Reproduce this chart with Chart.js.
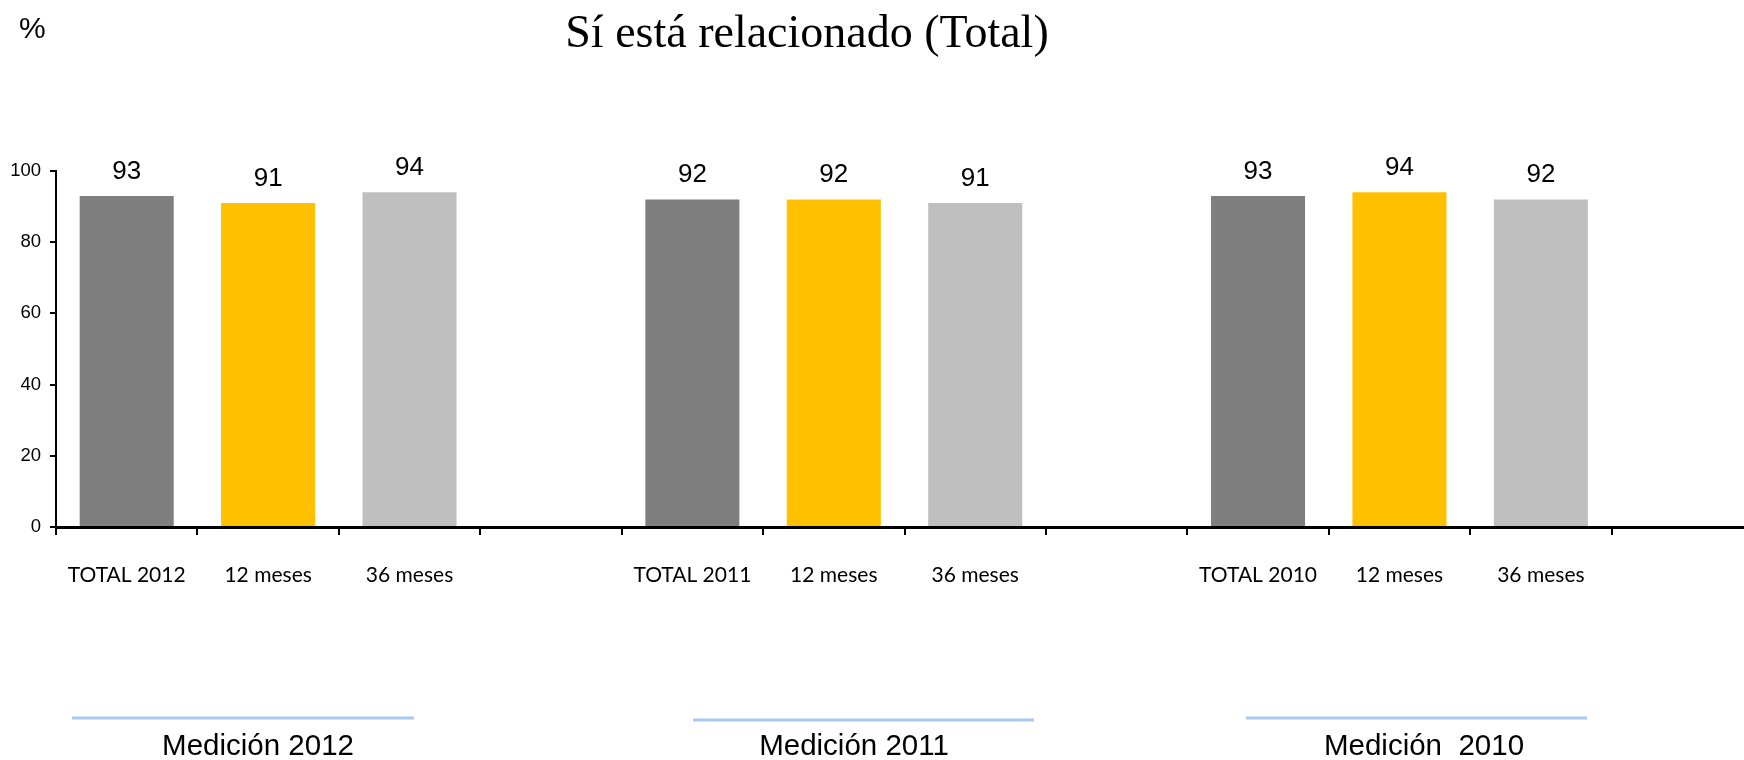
<!DOCTYPE html>
<html>
<head>
<meta charset="utf-8">
<script src="https://cdn.jsdelivr.net/npm/chart.js@4/dist/chart.umd.min.js"></script>
<style>
  html, body { margin: 0; padding: 0; background: #fff; overflow: hidden; }
  #wrap { width: 1744px; height: 760px; overflow: hidden; }
</style>
</head>
<body>
<div id="wrap"><canvas id="chart" width="1760" height="760"></canvas></div>
<script>
// categories (empty slot after each measurement group)
const categories = ['TOTAL 2012', '12 meses', '36 meses', '',
                    'TOTAL 2011', '12 meses', '36 meses', '',
                    'TOTAL 2010', '12 meses', '36 meses', ''];
const values = [93, 91, 94, null,
                92, 92, 91, null,
                93, 94, 92, null];
const barColors = ['#7F7F7F', '#FFC000', '#BFBFBF', '#FFFFFF',
                   '#7F7F7F', '#FFC000', '#BFBFBF', '#FFFFFF',
                   '#7F7F7F', '#FFC000', '#BFBFBF', '#FFFFFF'];
const yTicks = [0, 20, 40, 60, 80, 100];
const groupLabels = ['Medición 2012', 'Medición 2011', 'Medición  2010'];
const titleText = 'Sí está relacionado (Total)';

// value labels above bars
const valueLabels = {
  id: 'valueLabels',
  afterDatasetsDraw(chart) {
    const ctx = chart.ctx;
    const meta = chart.getDatasetMeta(0);
    ctx.save();
    ctx.font = '26px "Liberation Sans", Arial, sans-serif';
    ctx.fillStyle = '#000';
    ctx.textAlign = 'center';
    ctx.textBaseline = 'alphabetic';
    meta.data.forEach((bar, i) => {
      if (values[i] == null) return;
      ctx.fillText(String(values[i]), bar.x, bar.y - 17);
    });
    ctx.restore();
  }
};

// title, unit, and group captions under the axis
const decorations = {
  id: 'decorations',
  afterDraw(chart) {
    const ctx = chart.ctx;
    ctx.save();
    ctx.fillStyle = '#000';
    ctx.textAlign = 'center';
    ctx.font = '46px "Liberation Serif", "Times New Roman", serif';
    ctx.fillText(titleText, 807, 47);

    ctx.textAlign = 'left';
    ctx.font = '30px "Liberation Sans", Arial, sans-serif';
    ctx.fillText('%', 19, 38);

    const lines = [[72, 414, 718], [693, 1034, 720], [1246, 1587, 718]];
    const centers = [258, 854, 1424];
    ctx.strokeStyle = '#A9C9F2';
    ctx.lineWidth = 3;
    lines.forEach(l => {
      ctx.beginPath();
      ctx.moveTo(l[0], l[2]);
      ctx.lineTo(l[1], l[2]);
      ctx.stroke();
    });
    ctx.textAlign = 'center';
    ctx.font = '29.5px "Liberation Sans", Arial, sans-serif';
    groupLabels.forEach((t, i) => ctx.fillText(t, centers[i], 755));
    ctx.restore();
  }
};

new Chart(document.getElementById('chart').getContext('2d'), {
  type: 'bar',
  data: {
    labels: categories,
    datasets: [{
      data: values,
      backgroundColor: barColors,
      borderWidth: 0,
      barPercentage: 0.665,
      categoryPercentage: 1
    }]
  },
  options: {
    responsive: false,
    animation: false,
    devicePixelRatio: 1,
    layout: { padding: { top: 171, right: 7, left: 0, bottom: 0 } },
    plugins: {
      legend: { display: false },
      title: { display: false },
      tooltip: { enabled: false }
    },
    scales: {
      x: {
        grid: { drawOnChartArea: false, drawTicks: true, tickLength: 8, color: '#000', lineWidth: 2, offset: true },
        border: { color: '#000', width: 3 },
        ticks: {
          autoSkip: false,
          maxRotation: 0,
          color: '#000',
          padding: 28,
          font: { family: 'Lato, "Open Sans", sans-serif', size: 21 }
        },
        afterFit(scale) { scale.height = 233; }
      },
      y: {
        min: 0,
        max: 100,
        afterBuildTicks(scale) { scale.ticks = yTicks.map(v => ({ value: v })); },
        grid: { drawOnChartArea: false, drawTicks: true, tickLength: 6, color: '#000', lineWidth: 2 },
        border: { color: '#000', width: 2 },
        ticks: {
          color: '#000',
          padding: 9,
          font: { family: '"Liberation Sans", Arial, sans-serif', size: 18.5 }
        },
        afterFit(scale) { scale.width = 56; }
      }
    }
  },
  plugins: [valueLabels, decorations]
});
</script>
</body>
</html>
